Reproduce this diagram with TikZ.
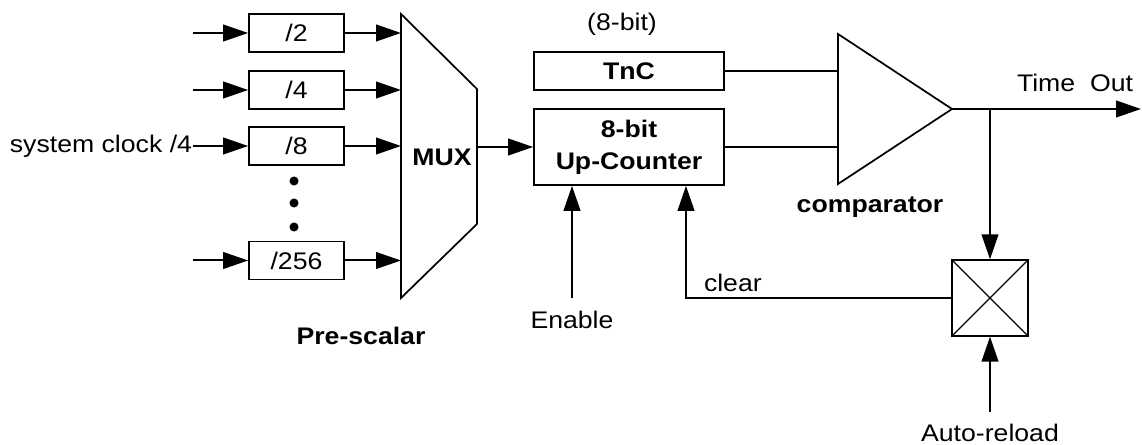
\documentclass[tikz,border=0pt]{standalone}
\usepackage{fontspec}
\setmainfont{Liberation Sans}[FakeStretch=1.11]
\usetikzlibrary{arrows.meta}
\begin{document}
\begin{tikzpicture}[x=0.75pt,y=-0.75pt,
  line width=1.5pt,
  blk/.style={draw, line width=1.3pt, minimum width=71.25pt, minimum height=28.5pt, inner sep=0pt, font=\fontsize{18}{24}\selectfont},
  lbl/.style={inner sep=0pt, font=\fontsize{18}{24}\selectfont},
  blbl/.style={inner sep=0pt, font=\fontsize{18}{24}\selectfont\bfseries},
  arr/.style={-{Triangle[length=18.75pt,width=12.5pt]}}]
\useasboundingbox (0,0) rectangle (1142,445);

% divider boxes
\node[blk] (d2) at (296.5,33) {/2};
\node[blk] (d4) at (296.5,90) {/4};
\node[blk] (d8) at (296.5,146) {/8};
\node[blk] (d256) at (296.5,260.5) {/256};

% inputs
\coordinate (i2) at (193,33);
\coordinate (i4) at (193,90);
\coordinate (i256) at (193,260.5);
\node[lbl, anchor=east] (sys) at (193,146) {system clock /4};
\draw[arr] (i2) -- (d2);
\draw[arr] (i4) -- (d4);
\draw[arr] (sys.east) -- (d8);
\draw[arr] (i256) -- (d256);

% dots
\fill (294,181) circle[radius=3.4pt];
\fill (294,203) circle[radius=3.4pt];
\fill (294,227) circle[radius=3.4pt];

% MUX
\coordinate (mtl) at (401,14);
\coordinate (mtr) at (477,89);
\coordinate (mbr) at (477,224);
\coordinate (mbl) at (401,298);
\draw[line width=1.3pt, line join=miter] (mtl) -- (mtr) -- (mbr) -- (mbl) -- cycle;
\node[blbl] (mux) at (442,157) {MUX};
\coordinate (m2) at (401,33);
\coordinate (m4) at (401,90);
\coordinate (m8) at (401,146);
\coordinate (m256) at (401,260.5);
\draw[arr] (d2) -- (m2);
\draw[arr] (d4) -- (m4);
\draw[arr] (d8) -- (m8);
\draw[arr] (d256) -- (m256);
\node[blbl] (pre) at (361,336) {Pre-scalar};

% counter and TnC
\node[blk, font=\fontsize{18}{24}\selectfont\bfseries, minimum width=142.5pt] (tnc) at (629,71) {TnC};
\node[blk, font=\fontsize{18}{24}\selectfont\bfseries, minimum width=142.5pt, minimum height=57pt, align=center] (cnt) at (629,147) {8-bit\\Up-Counter};
\node[lbl] (bits) at (622,24) {(8-bit)};
\coordinate (mo) at (477,147);
\draw[arr] (mo) -- (cnt);

% comparator
\coordinate (ctop) at (838,34);
\coordinate (cbot) at (838,184);
\coordinate (capex) at (952,109);
\draw[line width=1.3pt, line join=miter] (ctop) -- (capex) -- (cbot) -- cycle;
\coordinate (c1) at (838,71);
\coordinate (c2) at (838,147);
\draw (tnc) -- (c1);
\draw (cnt) -- (c2);
\node[blbl] (cmp) at (870,207) {comparator};

% output
\coordinate (out) at (1141,109);
\coordinate (br) at (990,109);
\draw[arr] (capex) -- (out);
\node[lbl] (to) at (1075,83) {Time\ \ Out};

% reload box
\node[draw, line width=1pt, minimum size=57pt, inner sep=0pt] (xb) at (990,298) {};
\draw[line width=1pt] (xb.north west) -- (xb.south east) (xb.north east) -- (xb.south west);
\draw[arr] (br) -- (xb);
\node[lbl] (ar) at (990,433) {Auto-reload};
\coordinate (arin) at (990,412);
\draw[arr] (arin) -- (xb);

% clear
\coordinate (cl) at (686,298);
\draw[arr] (xb.west) -- (cl) -- (cl |- cnt.south);
\node[lbl, anchor=west] (clr) at (703,283) {clear};

% enable
\node[lbl] (en) at (572,320) {Enable};
\coordinate (enin) at (572,298);
\draw[arr] (enin) -- (enin |- cnt.south);
\end{tikzpicture}
\end{document}
